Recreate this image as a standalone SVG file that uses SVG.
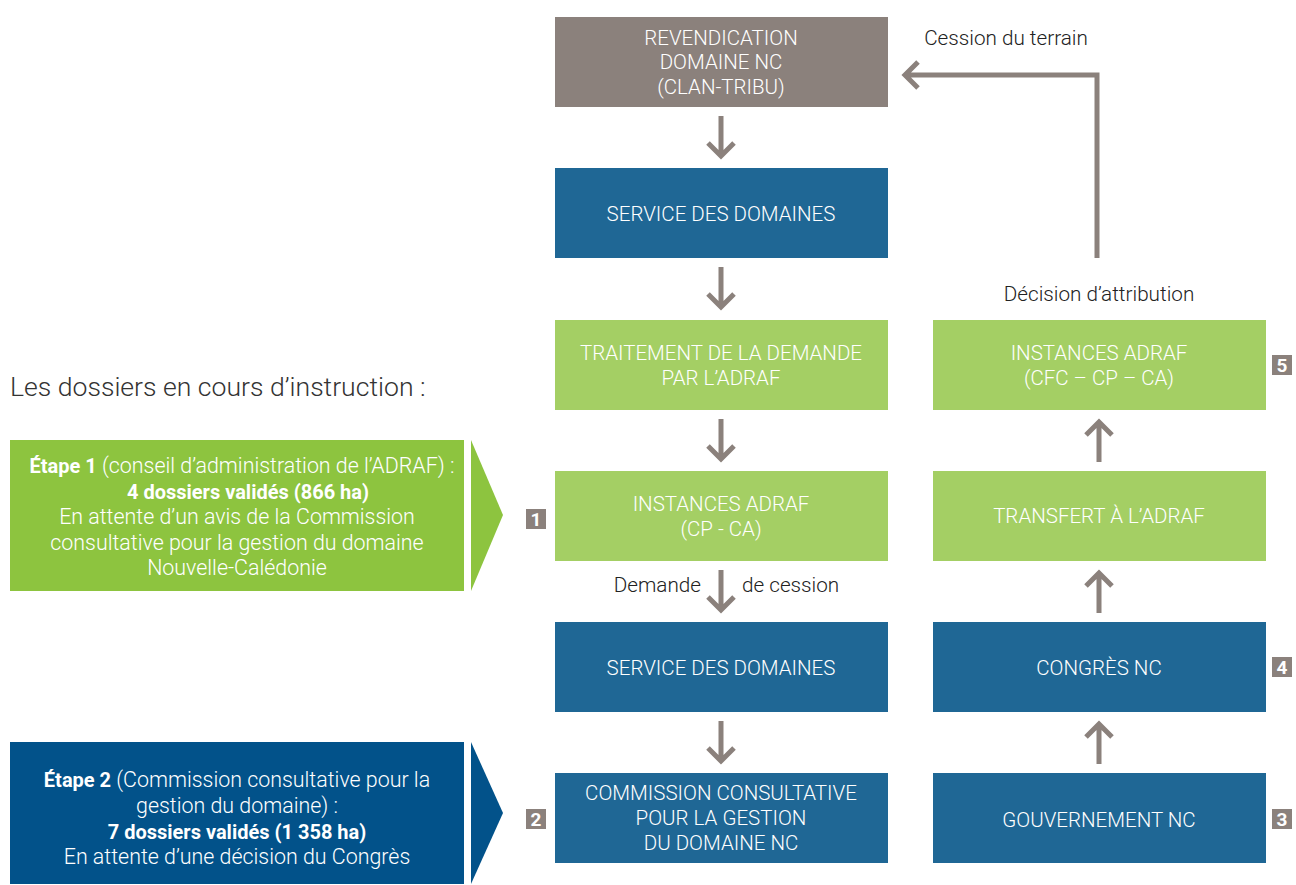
<svg xmlns="http://www.w3.org/2000/svg" width="1296" height="885" viewBox="0 0 1296 885">
<style>
.g{fill:#8b817c}.b{fill:#1f6795}.gr{fill:#a4cf64}
.t{font-family:Roboto,"Liberation Sans",sans-serif;font-size:20.5px;font-weight:300;fill:#fff;text-anchor:middle}
.l{font-family:Roboto,"Liberation Sans",sans-serif;font-size:20.7px;font-weight:300;fill:#222}
.n{font-family:Roboto,"Liberation Sans",sans-serif;font-size:19px;font-weight:bold;fill:#fff;text-anchor:middle}
.c{fill:none;stroke:#8b817c;stroke-width:5}
.s{font-family:Roboto,"Liberation Sans",sans-serif;font-size:21.4px;font-weight:300;fill:#fff;text-anchor:middle}
.bd{font-weight:bold;font-size:20px}
</style>
<defs>
<g id="dn"><path class="c" d="M0,0V40M-13,27L0,40L13,27"/></g>
<g id="up"><path class="c" d="M0,0V-40M-13,-27L0,-40L13,-27"/></g>
</defs>
<rect width="1296" height="885" fill="#fff"/>
<text class="l" x="10" y="396" style="font-size:26.6px;fill:#333">Les dossiers en cours d’instruction :</text>
<g id="etape1">
<rect x="10" y="440" width="454" height="151" fill="#8dc43f"/>
<polygon points="471,440 503,515 471,591" fill="#8dc43f"/>
<text class="s" x="242" y="473"><tspan class="bd">Étape 1</tspan> (conseil d’administration de l’ADRAF) :</text>
<text class="s bd" x="248" y="499">4 dossiers validés (866 ha)</text>
<text class="s" x="237" y="524">En attente d’un avis de la Commission</text>
<text class="s" x="237" y="550">consultative pour la gestion du domaine</text>
<text class="s" x="237" y="575">Nouvelle-Calédonie</text>
</g>
<g id="etape2">
<rect x="10" y="742" width="454" height="142" fill="#02528a"/>
<polygon points="471,742 503,813 471,884" fill="#02528a"/>
<text class="s" x="237" y="787"><tspan class="bd">Étape 2</tspan> (Commission consultative pour la</text>
<text class="s" x="237" y="813">gestion du domaine) :</text>
<text class="s bd" x="237" y="839">7 dossiers validés (1 358 ha)</text>
<text class="s" x="237" y="864">En attente d’une décision du Congrès</text>
</g>
<g id="revendication"><rect class="g" x="555" y="17" width="333" height="90"/>
<text class="t" x="721" y="45">REVENDICATION</text><text class="t" x="721" y="69">DOMAINE NC</text><text class="t" x="721" y="94">(CLAN-TRIBU)</text></g>
<g id="service1"><rect class="b" x="555" y="168" width="333" height="90"/>
<text class="t" x="721" y="221">SERVICE DES DOMAINES</text></g>
<g id="traitement"><rect class="gr" x="555" y="320" width="333" height="90"/>
<text class="t" x="721" y="360">TRAITEMENT DE LA DEMANDE</text><text class="t" x="721" y="385">PAR L’ADRAF</text></g>
<g id="instances1"><rect class="gr" x="555" y="471" width="333" height="90"/>
<text class="t" x="721" y="511">INSTANCES ADRAF</text><text class="t" x="721" y="536">(CP - CA)</text></g>
<g id="service2"><rect class="b" x="555" y="622" width="333" height="90"/>
<text class="t" x="721" y="675">SERVICE DES DOMAINES</text></g>
<g id="commission"><rect class="b" x="555" y="773" width="333" height="90"/>
<text class="t" x="721" y="800">COMMISSION CONSULTATIVE</text><text class="t" x="721" y="825">POUR LA GESTION</text><text class="t" x="721" y="850">DU DOMAINE NC</text></g>
<g id="instances2"><rect class="gr" x="933" y="320" width="333" height="90"/>
<text class="t" x="1099" y="360">INSTANCES ADRAF</text><text class="t" x="1099" y="385">(CFC – CP – CA)</text></g>
<g id="transfert"><rect class="gr" x="933" y="471" width="333" height="90"/>
<text class="t" x="1099" y="523">TRANSFERT À L’ADRAF</text></g>
<g id="congres"><rect class="b" x="933" y="622" width="333" height="90"/>
<text class="t" x="1099" y="675">CONGRÈS NC</text></g>
<g id="gouvernement"><rect class="b" x="933" y="773" width="333" height="90"/>
<text class="t" x="1099" y="827">GOUVERNEMENT NC</text></g>
<g id="badges">
<rect class="g" x="526" y="509" width="20" height="20"/><text class="n" x="536" y="526">1</text>
<rect class="g" x="526" y="809" width="20" height="20"/><text class="n" x="536" y="826">2</text>
<rect class="g" x="1272" y="809" width="20" height="20"/><text class="n" x="1282" y="826">3</text>
<rect class="g" x="1272" y="657" width="20" height="20"/><text class="n" x="1282" y="674">4</text>
<rect class="g" x="1272" y="355" width="20" height="20"/><text class="n" x="1282" y="372">5</text>
</g>
<g id="connectors">
<use href="#dn" x="721" y="116"/>
<use href="#dn" x="721" y="267"/>
<use href="#dn" x="721" y="419"/>
<use href="#dn" x="721" y="570"/>
<use href="#dn" x="721" y="721"/>
<use href="#up" x="1099" y="764"/>
<use href="#up" x="1099" y="613"/>
<use href="#up" x="1099" y="462"/>
<path class="c" d="M1097,258V75H905M918,62L905,75L918,88"/>
<text class="l" x="701" y="592" text-anchor="end">Demande</text>
<text class="l" x="742" y="592">de cession</text>
<text class="l" x="1006" y="45" text-anchor="middle">Cession du terrain</text>
<text class="l" x="1099" y="301" text-anchor="middle">Décision d’attribution</text>
</g>
</svg>
